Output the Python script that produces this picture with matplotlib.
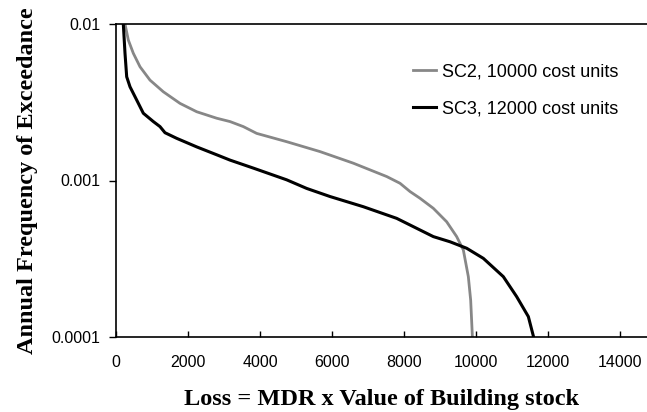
import numpy as np
import matplotlib.pyplot as plt
from matplotlib.ticker import FixedLocator, FixedFormatter, NullLocator

# Loss values and annual frequency of exceedance
sc2_loss = [250, 342, 481, 667, 944, 1314, 1778, 2242, 2797, 3167, 3537, 3907,
            4741, 5667, 6592, 7519, 7889, 8167, 8444, 8815, 9185, 9463, 9648,
            9787, 9852, 9900]
sc2_freq = [0.01, 0.0079, 0.0065, 0.00533, 0.00438, 0.00369, 0.00311, 0.00275,
            0.0025, 0.00238, 0.00221, 0.0020, 0.00177, 0.00153, 0.00129,
            0.00106, 0.00096, 0.00085, 0.00077, 0.000664, 0.000545, 0.000438,
            0.00036, 0.000243, 0.000172, 0.0001]

sc3_loss = [203, 250, 297, 389, 574, 759, 1037, 1222, 1361, 1685, 2241, 2797,
            3167, 3815, 4741, 5296, 5944, 6870, 7796, 8444, 8815, 9278, 9741,
            10204, 10759, 11130, 11454, 11600]
sc3_freq = [0.01, 0.0065, 0.0046, 0.00397, 0.00327, 0.00269, 0.00238, 0.00221,
            0.00202, 0.00186, 0.00164, 0.00146, 0.00135, 0.0012, 0.00101,
            0.00089, 0.00079, 0.00068, 0.000573, 0.000483, 0.000438, 0.000406,
            0.000369, 0.000318, 0.000243, 0.000181, 0.000135, 0.0001]

labels = ['SC2, 10000 cost units', 'SC3, 12000 cost units']
x_ticks = [0, 2000, 4000, 6000, 8000, 10000, 12000, 14000]
y_ticks = [0.0001, 0.001, 0.01]
y_tick_labels = ['0.0001', '0.001', '0.01']

fig = plt.figure(figsize=(6.47, 4.12), dpi=100)
ax = fig.add_axes([116 / 647, 1 - 337 / 412, 531 / 647, 313 / 412])

ax.plot(sc2_loss, sc2_freq, color='#878787', lw=2.0, label=labels[0])
ax.plot(sc3_loss, sc3_freq, color='black', lw=2.2, label=labels[1])

ax.set_yscale('log')
ax.set_xlim(0, 531 / 36 * 1000)
ax.set_ylim(0.0001, 0.01)

ax.xaxis.set_major_locator(FixedLocator(x_ticks))
ax.set_xticklabels([str(t) for t in x_ticks])
ax.yaxis.set_major_locator(FixedLocator(y_ticks))
ax.yaxis.set_major_formatter(FixedFormatter(y_tick_labels))
ax.yaxis.set_minor_locator(NullLocator())
for lab in ax.get_xticklabels() + ax.get_yticklabels():
    lab.set_fontfamily('Liberation Sans')
    lab.set_fontsize(11.5)

ax.tick_params(axis='x', direction='in', length=4, width=1, pad=13)
ax.tick_params(axis='y', direction='out', length=5, width=1, pad=6)

ax.spines['right'].set_visible(False)
for s in ['left', 'bottom', 'top']:
    ax.spines[s].set_linewidth(1.2)

label_font = {'family': 'Liberation Serif', 'weight': 'bold', 'size': 17.5}
ax.set_xlabel('Loss = MDR x Value of Building stock', fontdict=label_font, labelpad=14)
ax.set_ylabel('Annual Frequency of Exceedance', fontdict=label_font, labelpad=10)

leg = ax.legend(loc='upper left', bbox_to_anchor=(0.528, 0.925), frameon=False,
                prop={'family': 'Liberation Sans', 'size': 13},
                handlelength=1.3, handletextpad=0.3, labelspacing=1.1)

fig.savefig('out.png', dpi=100)
